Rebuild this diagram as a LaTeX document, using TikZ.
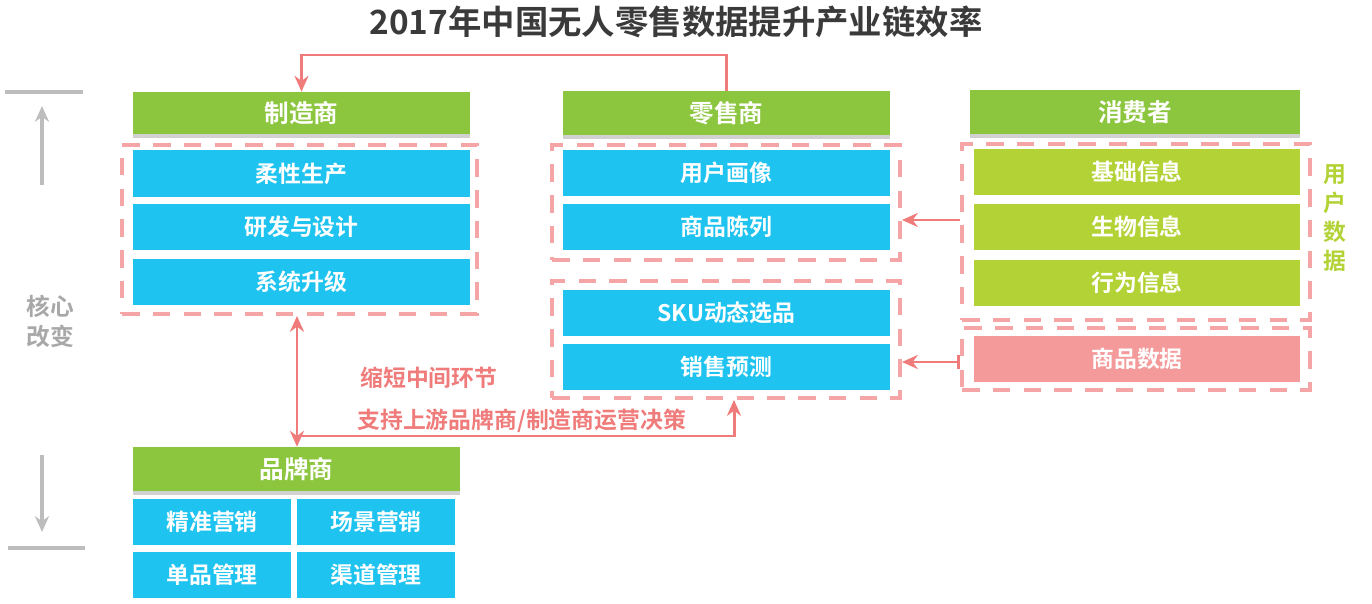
\documentclass[tikz,border=0pt]{standalone}
\usepackage{fontspec}
\setmainfont{Noto Sans CJK SC}[BoldFont={Noto Sans CJK SC Bold}]
\usetikzlibrary{arrows.meta,shadows}
\definecolor{hdrgreen}{HTML}{8CC63F}
\definecolor{cyanbox}{HTML}{1FC3F0}
\definecolor{limebox}{HTML}{B3D236}
\definecolor{pinkbox}{HTML}{F49A9A}
\definecolor{dashpink}{HTML}{F5A5A5}
\definecolor{connred}{HTML}{F07B7B}
\definecolor{titlegray}{HTML}{3A3A3A}
\definecolor{sidegray}{HTML}{BDBDBD}
\definecolor{sidetext}{HTML}{A8A8A8}
\tikzset{
  x=0.02cm, y=-0.02cm,
  box/.style={rectangle, inner sep=0pt, text=white, font=\bfseries\fontsize{13}{15}\selectfont},
  hdr/.style={box, fill=hdrgreen, font=\bfseries\fontsize{14}{16}\selectfont,
    drop shadow={shadow xshift=0pt, shadow yshift=-2.5pt, opacity=0.3, fill=black!60}},
  cbox/.style={box, fill=cyanbox},
  lbox/.style={box, fill=limebox},
  pbox/.style={box, fill=pinkbox},
  dashbox/.style={rectangle, inner sep=0pt, draw=dashpink, line width=2.3pt, dash pattern=on 10pt off 7.5pt},
  conn/.style={draw=connred, line width=1.7pt},
  tip/.style={-{Stealth[length=9pt,width=8pt]}},
  lbl/.style={text=connred, font=\bfseries\fontsize{13}{15}\selectfont, inner sep=0pt},
  side/.style={draw=sidegray, line width=1.8pt},
}
\begin{document}
\begin{tikzpicture}
\useasboundingbox (0,0) rectangle (1372,604);
% title
\node[font=\bfseries\fontsize{19}{22}\selectfont, text=titlegray] (title) at (676,22) {2017年中国无人零售数据提升产业链效率};

% left side
\coordinate (gl1a) at (5,92); \coordinate (gl1b) at (83,92);
\coordinate (gl2a) at (8,548); \coordinate (gl2b) at (85,548);
\draw[side] (gl1a) -- (gl1b);
\draw[side] (gl2a) -- (gl2b);
\coordinate (ua) at (42,185); \coordinate (ub) at (42,106);
\coordinate (da) at (42,455); \coordinate (db) at (42,532);
\draw[side, -{Stealth[length=9pt,width=8pt]}] (ua) -- (ub);
\draw[side, -{Stealth[length=9pt,width=8pt]}] (da) -- (db);
\node[text=sidetext, font=\bfseries\fontsize{13.5}{17}\selectfont, align=center] (core) at (50,321) {核心\\改变};

% dashed groups
\node[dashbox, minimum width=7.1cm, minimum height=3.38cm] (d1) at (299.5,229.5) {};
\node[dashbox, minimum width=6.96cm, minimum height=2.3cm] (d2a) at (726,202.5) {};
\node[dashbox, minimum width=6.96cm, minimum height=2.34cm] (d2b) at (726,339.5) {};
\node[dashbox, minimum width=6.96cm, minimum height=3.52cm] (d3) at (1136,232) {};
\node[dashbox, minimum width=6.96cm, minimum height=1.24cm] (d4) at (1136,359) {};

% column 1
\node[hdr, minimum width=6.74cm, minimum height=0.84cm] (h1) at (301.5,113) {制造商};
\node[cbox, minimum width=6.74cm, minimum height=0.94cm] (c11) at (301.5,173.5) {柔性生产};
\node[cbox, minimum width=6.74cm, minimum height=0.92cm] (c12) at (301.5,227) {研发与设计};
\node[cbox, minimum width=6.74cm, minimum height=0.92cm] (c13) at (301.5,282) {系统升级};

% column 2
\node[hdr, minimum width=6.54cm, minimum height=0.88cm] (h2) at (726.5,113) {零售商};
\node[cbox, minimum width=6.54cm, minimum height=0.92cm] (c21) at (726.5,173) {用户画像};
\node[cbox, minimum width=6.54cm, minimum height=0.92cm] (c22) at (726.5,227) {商品陈列};
\node[cbox, minimum width=6.54cm, minimum height=0.92cm] (c23) at (726.5,313) {SKU动态选品};
\node[cbox, minimum width=6.54cm, minimum height=0.92cm] (c24) at (726.5,367) {销售预测};

% column 3
\node[hdr, minimum width=6.6cm, minimum height=0.88cm] (h3) at (1135,112) {消费者};
\node[lbox, minimum width=6.54cm, minimum height=0.92cm] (c31) at (1137,172) {基础信息};
\node[lbox, minimum width=6.54cm, minimum height=0.92cm] (c32) at (1137,227) {生物信息};
\node[lbox, minimum width=6.54cm, minimum height=0.92cm] (c33) at (1137,283) {行为信息};
\node[pbox, minimum width=6.54cm, minimum height=0.92cm] (c34) at (1137,359) {商品数据};
\node[text=limebox, font=\bfseries\fontsize{13}{16.4}\selectfont, align=center, inner sep=0pt] (ud) at (1335,218) {用\\户\\数\\据};

% bottom
\node[hdr, minimum width=6.54cm, minimum height=0.88cm] (h4) at (296.5,469) {品牌商};
\node[cbox, minimum width=3.16cm, minimum height=0.92cm] (c41) at (212,522) {精准营销};
\node[cbox, minimum width=3.16cm, minimum height=0.92cm] (c42) at (376,522) {场景营销};
\node[cbox, minimum width=3.16cm, minimum height=0.92cm] (c43) at (212,575) {单品管理};
\node[cbox, minimum width=3.16cm, minimum height=0.92cm] (c44) at (376,575) {渠道管理};

% connectors
\coordinate (ytop) at (0,55);
\draw[conn, tip] (h2.north) -- (h2.north |- ytop) -| (h1.north);
\coordinate (vx) at (297,0);
\draw[conn, {Stealth[length=9pt,width=8pt]}-{Stealth[length=9pt,width=8pt]}] (vx |- d1.south) -- (vx |- h4.north);
\coordinate (yj) at (0,436);
\coordinate (jx) at (734,0);
\draw[conn, tip] (vx |- yj) -- (jx |- yj) -- (jx |- d2b.south);
\coordinate (y220) at (0,220);
\draw[conn, tip] (d3.west |- y220) -- (d2a.east |- y220);
\coordinate (y362) at (0,362);
\draw[conn, {Stealth[length=9pt,width=8pt]}-{Bar[width=8pt]}] (d2b.east |- y362) -- (d4.west |- y362);
\node[lbl, anchor=west] (l1) at (360,378) {缩短中间环节};
\node[lbl, anchor=west] (l2) at (357,421) {支持上游品牌商/制造商运营决策};
\end{tikzpicture}
\end{document}
